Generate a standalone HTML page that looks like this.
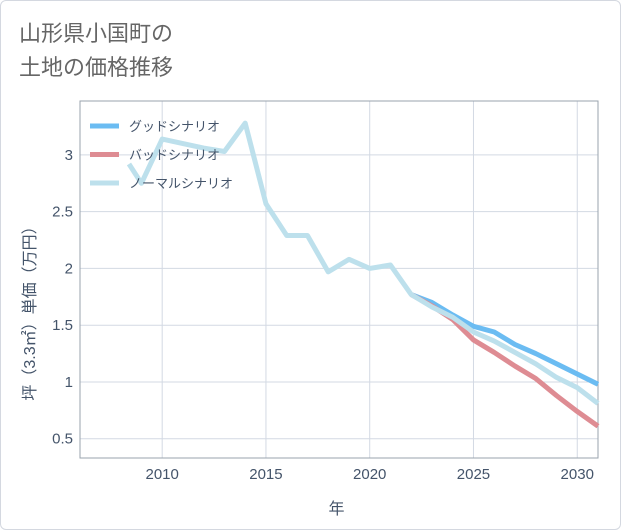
<!DOCTYPE html>
<html><head><meta charset="utf-8"><style>
body{margin:0;background:#fff;}
#wrap{position:relative;width:621px;height:530px;box-sizing:border-box;border:1px solid #d4d8e0;border-radius:6px;background:#fff;overflow:hidden;font-family:"Liberation Sans","Noto Sans CJK JP",sans-serif;}
#title{position:absolute;left:18px;top:16px;font-size:22px;line-height:34px;color:#666;}
</style></head><body>
<div id="wrap">
<div id="title">山形県小国町の<br>土地の価格推移</div>
<svg id="chart" width="621" height="530" style="position:absolute;left:0;top:0"></svg>
</div>
<script>
const goodYears=[2022,2023,2024,2025,2026,2027,2028,2029,2030,2031];
const goodVals=[1.77,1.70,1.59,1.49,1.44,1.33,1.25,1.16,1.07,0.98];
const badYears=[2022,2023,2024,2025,2026,2027,2028,2029,2030,2031];
const badVals=[1.77,1.67,1.55,1.37,1.26,1.14,1.03,0.88,0.74,0.61];
const normYears=[2008.4,2009,2010,2011,2012,2013,2014,2015,2016,2017,2018,2019,2020,2021,2022,2023,2024,2025,2026,2027,2028,2029,2030,2031];
const normVals=[2.92,2.75,3.14,3.10,3.06,3.03,3.28,2.57,2.29,2.29,1.97,2.08,2.00,2.03,1.77,1.66,1.57,1.44,1.36,1.26,1.16,1.04,0.95,0.81];
const xTicks=[2010,2015,2020,2025,2030];
const yTicks=[0.5,1,1.5,2,2.5,3];
const yTickLabels=["0.5","1","1.5","2","2.5","3"];

const L=79,R=597,T=100,B=457,X0=2006.04,X1=2031.0,Y0=0.33,Y1=3.475;
const sx=v=>L+(v-X0)/(X1-X0)*(R-L);
const sy=v=>B-(v-Y0)/(Y1-Y0)*(B-T);
const svg=document.getElementById('chart');
const NS='http://www.w3.org/2000/svg';
function mk(tag,attrs,parent){const e=document.createElementNS(NS,tag);for(const k in attrs)e.setAttribute(k,attrs[k]);(parent||svg).appendChild(e);return e;}

xTicks.forEach(t=>{
  const l=mk('line',{x1:sx(t),x2:sx(t),y1:T,y2:B,stroke:'#d3d9e3','stroke-width':1});
  
  
  const tx=mk('text',{x:sx(t),y:478,'text-anchor':'middle','font-size':15,fill:'#44546a'});
  tx.textContent=t;
  
  
});
yTicks.forEach((t,i)=>{
  const l=mk('line',{x1:L,x2:R,y1:sy(t),y2:sy(t),stroke:'#d3d9e3','stroke-width':1});
  
  
  const tx=mk('text',{x:72,y:sy(t)+5,'text-anchor':'end','font-size':15,fill:'#44546a'});
  tx.textContent=yTickLabels[i];
  
  
});
const frame=mk('rect',{x:L,y:T,width:R-L,height:B-T,fill:'none',stroke:'#9aa3ad','stroke-width':1});



function series(xs,ys,color,name){
  const p=mk('polyline',{points:xs.map((x,i)=>sx(x)+','+sy(ys[i])).join(' '),fill:'none',stroke:color,'stroke-width':5,'stroke-linejoin':'round'});
  
  
}
series(goodYears,goodVals,'#6bbcf2','good-scenario-line');
series(badYears,badVals,'#de8c93','bad-scenario-line');
series(normYears,normVals,'#bde0ec','normal-scenario-line');

const leg=[['グッドシナリオ','#6bbcf2'],['バッドシナリオ','#de8c93'],['ノーマルシナリオ','#bde0ec']];
leg.forEach((e,i)=>{
  const y=125+i*28.5;
  const l=mk('line',{x1:89,x2:118,y1:y,y2:y,stroke:e[1],'stroke-width':5});
  
  
  const tx=mk('text',{x:128,y:y+5,'font-size':13,fill:'#44546a'});
  tx.textContent=e[0];
  
  
});
const xt=mk('text',{x:sx(2018.4),y:513,'text-anchor':'middle','font-size':16,fill:'#44546a'});
xt.textContent='年';


const yt=mk('text',{x:0,y:0,'text-anchor':'middle','font-size':16,fill:'#44546a',transform:'translate(34,'+((T+B)/2+30)+') rotate(-90)'});
yt.textContent='坪（3.3㎡）単価（万円）';


</script>
</body></html>
